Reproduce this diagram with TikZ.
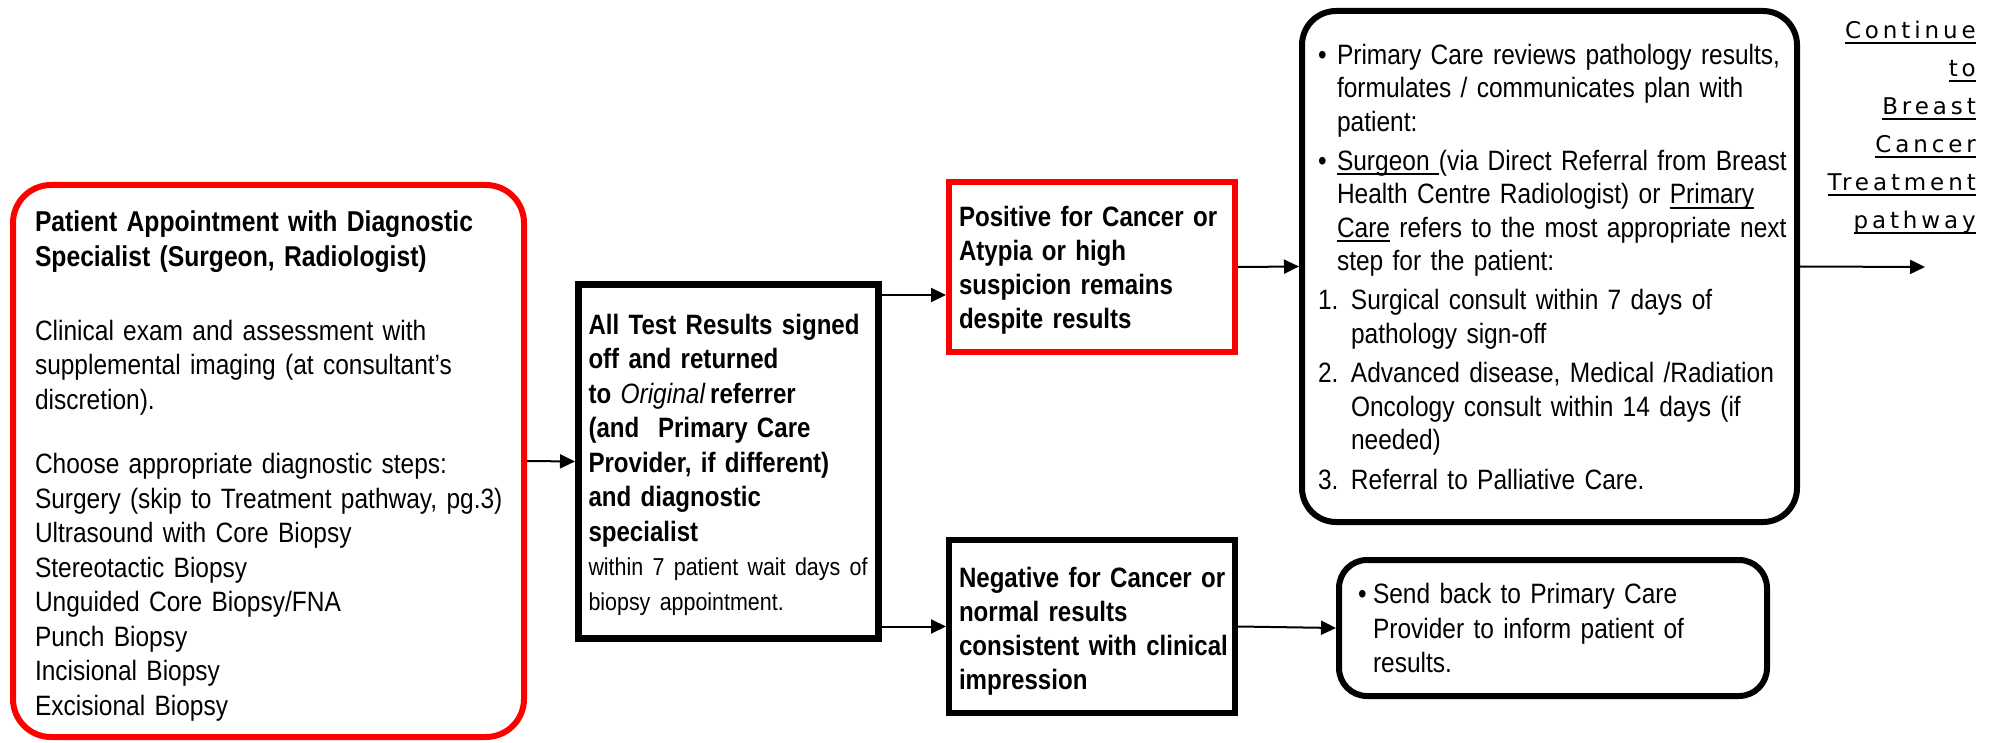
\documentclass[tikz,border=0pt]{standalone}
\usepackage{fontspec}
\setmainfont{Liberation Sans}[FakeStretch=0.875, BoldFeatures={FakeStretch=0.86}]
\newfontfamily\contfont{DejaVu Sans}[LetterSpace=17]
\usepackage{tikz}
\usetikzlibrary{arrows.meta, positioning}
\newcommand{\undl}[1]{\setbox0\hbox{#1}\rlap{\rule[-5pt]{\wd0}{1.6pt}}\box0\relax}

\begin{document}
\begin{tikzpicture}[x=1pt, y=-1pt,
    every node/.style={font=\fontsize{28}{34.5}\selectfont},
    box/.style={draw, line width=6pt, align=left, inner ysep=0pt},
    redbox/.style={box, draw=red},
    roundbox/.style={box, rounded corners=34pt},
    flow/.style={-{Triangle[length=15pt,width=14pt]}, line width=2pt}]
    \useasboundingbox (0,0) rectangle (1995,743);

    \node[redbox, rounded corners=38pt, minimum width=511pt, minimum height=552pt,
          text width=467pt, inner xsep=22pt] (appt) at (268.5,461) {%
        \rule{0pt}{30.5pt}{\fontsize{28.7}{34.5}\selectfont\bfseries Patient Appointment with Diagnostic}\\
        {\fontsize{28.7}{34.5}\selectfont\bfseries Specialist (Surgeon, Radiologist)}\\[39.5pt]
        Clinical exam and assessment with\\
        supplemental imaging (at consultant’s\\
        discretion).\\[30pt]
        Choose appropriate diagnostic steps:\\
        \mbox{Surgery (skip to Treatment pathway, pg.3)}\\
        Ultrasound with Core Biopsy\\
        Stereotactic Biopsy\\
        Unguided Core Biopsy/FNA\\
        Punch Biopsy\\
        Incisional Biopsy\\
        Excisional Biopsy};
    \node[box, line width=7pt, minimum width=300pt, minimum height=354pt,
          text width=280pt, inner xsep=10pt] (results) at (728.5,461.5) {%
        \rule{0pt}{27pt}\textbf{\mbox{All Test Results signed}}\\
        \textbf{off and returned}\\
        \textbf{to} \textit{Original}\,\textbf{referrer}\\
        \textbf{(and\ \ Primary Care}\\
        \textbf{Provider, if different)}\\
        \textbf{and diagnostic}\\
        \textbf{specialist}\\
        {\fontsize{24.5}{34.5}\selectfont\mbox{within 7 patient wait days of}}\\
        {\fontsize{24.5}{34.5}\selectfont biopsy appointment.}};
    \node[redbox, minimum width=286pt, minimum height=170pt,
          text width=266pt, inner xsep=10pt,
          font=\fontsize{28}{34}\selectfont] (pos) at (1092,267) {%
        \rule{0pt}{26pt}\textbf{\mbox{Positive for Cancer or}}\\
        \textbf{Atypia or high}\\
        \textbf{suspicion remains}\\
        \textbf{despite results}};
    \node[box, minimum width=286pt, minimum height=173pt,
          text width=266pt, inner xsep=10pt,
          font=\fontsize{28}{34}\selectfont] (neg) at (1092,626.5) {%
        \rule{0pt}{29pt}\textbf{\mbox{Negative for Cancer or}}\\
        \textbf{normal results}\\
        \textbf{\mbox{consistent with clinical}}\\
        \textbf{impression}};
    \node[roundbox, minimum width=495pt, minimum height=511pt,
          text width=463pt, inner xsep=16pt,
          font=\fontsize{28}{33.5}\selectfont] (plan) at (1549.5,266.5) {%
        \makebox[19pt][l]{\textbullet}\mbox{Primary Care reviews pathology results,}\\
        \hspace*{19pt}formulates / communicates plan with\\
        \hspace*{19pt}patient:\\[5.5pt]
        \makebox[19pt][l]{\textbullet}\mbox{\undl{Surgeon\ }(via Direct Referral from Breast}\\
        \hspace*{19pt}Health Centre Radiologist) or \undl{Primary}\\
        \hspace*{19pt}\mbox{\undl{Care} refers to the most appropriate next}\\
        \hspace*{19pt}step for the patient:\\[5.5pt]
        \makebox[33pt][l]{1.}Surgical consult within 7 days of\\
        \hspace*{33pt}pathology sign-off\\[6pt]
        \makebox[33pt][l]{2.}\mbox{Advanced disease, Medical /Radiation}\\
        \hspace*{33pt}Oncology consult within 14 days (if\\
        \hspace*{33pt}needed)\\[6pt]
        \makebox[33pt][l]{3.}Referral to Palliative Care.};
    \node[roundbox, rounded corners=28pt, minimum width=428pt, minimum height=136pt,
          text width=390pt, inner xsep=19pt] (back) at (1553,628) {%
        \makebox[15pt][l]{\textbullet}Send back to Primary Care\\
        \hspace*{15pt}Provider to inform patient of\\
        \hspace*{15pt}results.};
    \node[font=\contfont\fontsize{23}{38}\selectfont, align=right, anchor=north east,
          inner sep=0pt] (contlabel) at (1976,21) {%
        \undl{Continue}\\ \undl{to}\\ \undl{Breast}\\ \undl{Cancer}\\
        \undl{Treatment}\\ \undl{pathway}};
    \coordinate (cont) at (1925,267);

    \draw[flow] (appt.east) -- (results.west);
    \draw[flow] (results.east |- 0,295) -- (pos.west |- 0,295);
    \draw[flow] (results.east |- neg.west) -- (neg.west);
    \draw[flow] (pos.east) -- (plan.west);
    \draw[flow] (neg.east) -- (back.west);
    \draw[flow] (plan.east) -- (cont);
\end{tikzpicture}
\end{document}
